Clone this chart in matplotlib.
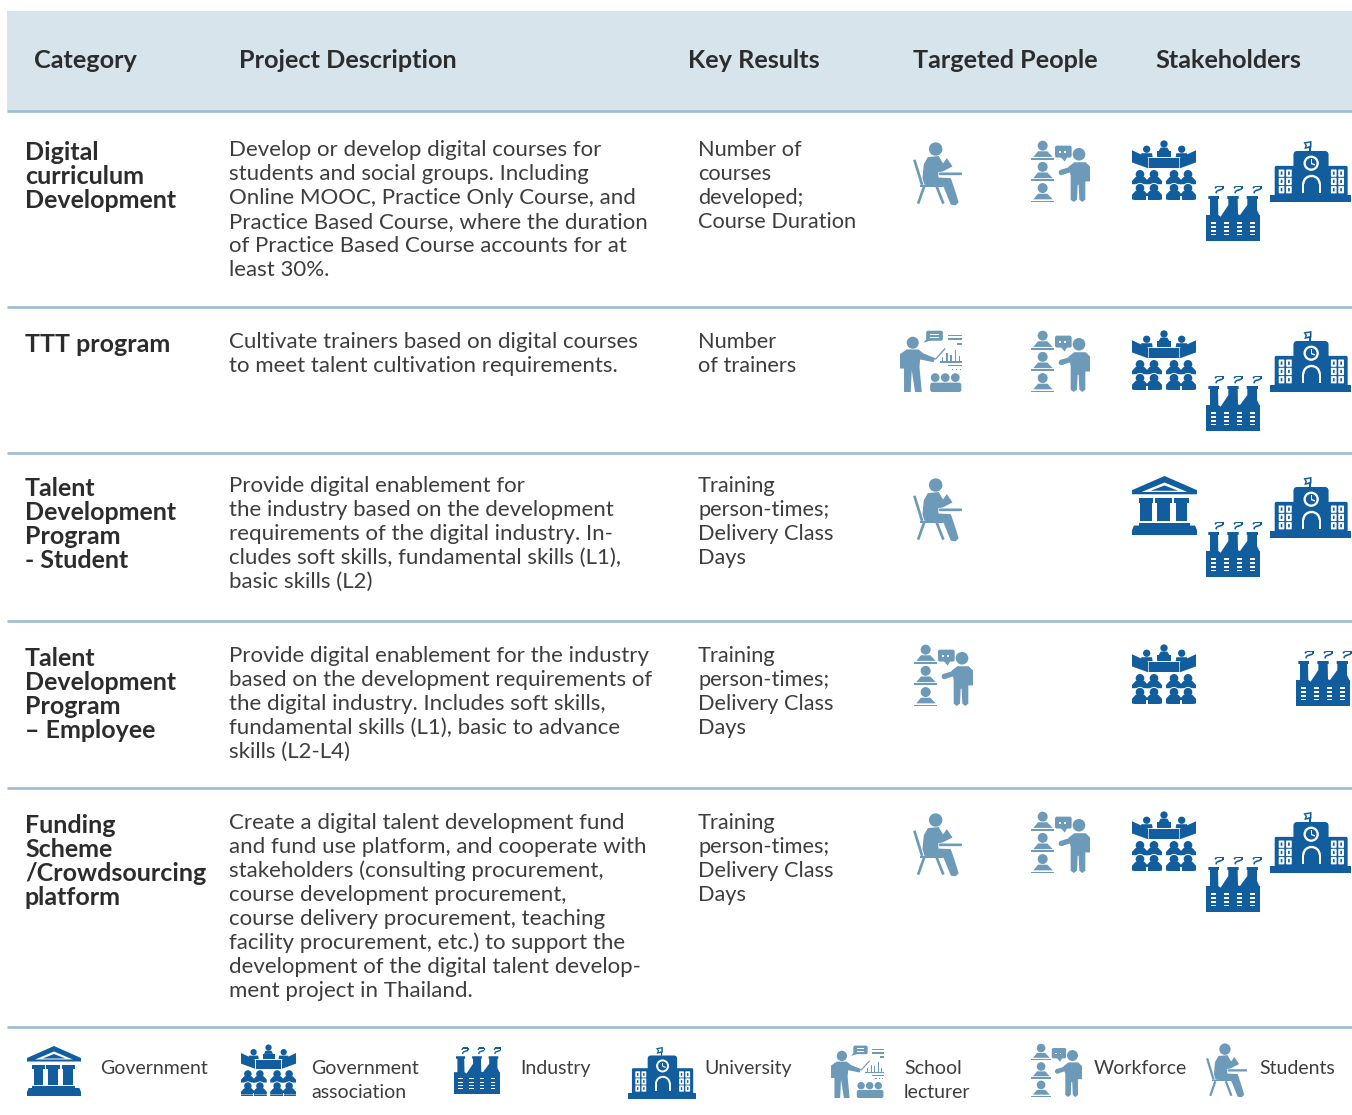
#!/usr/bin/env python3
"""Project overview table with pictogram columns, drawn in pixel coordinates."""

from __future__ import annotations

import matplotlib

matplotlib.use("Agg")
import matplotlib.pyplot as plt
from matplotlib.patches import Ellipse, FancyBboxPatch, Polygon, Rectangle, Wedge
from matplotlib.transforms import Affine2D

WIDTH, HEIGHT = 1352, 1115
DARK = "#115d9e"
LIGHT = "#6d9ab9"
HEADER_BG = "#d8e4ec"
RULE = "#9cbdd3"
INK = "#3d3d3d"
HEAD_INK = "#2c2c2c"
FONT = "Lato"

HEADERS = ["Category", "Project Description", "Key Results", "Targeted People", "Stakeholders"]
CATEGORIES = [
    ["Digital", "curriculum", "Development"],
    ["TTT program"],
    ["Talent", "Development", "Program", "- Student"],
    ["Talent", "Development", "Program", "– Employee"],
    ["Funding", "Scheme", "/Crowdsourcing", "platform"],
]
DESCRIPTIONS = [
    ["Develop or develop digital courses for", "students and social groups. Including",
     "Online MOOC, Practice Only Course, and", "Practice Based Course, where the duration",
     "of Practice Based Course accounts for at", "least 30%."],
    ["Cultivate trainers based on digital courses", "to meet talent cultivation requirements."],
    ["Provide digital enablement for", "the industry based on the development",
     "requirements of the digital industry. In-", "cludes soft skills, fundamental skills (L1),",
     "basic skills (L2)"],
    ["Provide digital enablement for the industry", "based on the development requirements of",
     "the digital industry. Includes soft skills,", "fundamental skills (L1), basic to advance",
     "skills (L2-L4)"],
    ["Create a digital talent development fund", "and fund use platform, and cooperate with",
     "stakeholders (consulting procurement,", "course development procurement,",
     "course delivery procurement, teaching", "facility procurement, etc.) to support the",
     "development of the digital talent develop-", "ment project in Thailand."],
]
RESULTS = [
    ["Number of", "courses", "developed;", "Course Duration"],
    ["Number", "of trainers"],
    ["Training", "person-times;", "Delivery Class", "Days"],
    ["Training", "person-times;", "Delivery Class", "Days"],
    ["Training", "person-times;", "Delivery Class", "Days"],
]
LEGEND_LABELS = [["Government"], ["Government", "association"], ["Industry"], ["University"],
                 ["School", "lecturer"], ["Workforce"], ["Students"]]
LEGEND_ICONS = ["government", "association", "industry", "university", "lecturer", "workforce", "student"]
ROW_PEOPLE = [["student", "workforce"], ["lecturer", "workforce"], ["student"], ["workforce"], ["student", "workforce"]]
ROW_STAKEHOLDERS = [
    ["association", "industry", "university"],
    ["association", "industry", "university"],
    ["government", "industry", "university"],
    ["association", "industry"],
    ["association", "industry", "university"],
]

# layout, in image pixels
RULES_Y = [111, 307, 453, 621, 788, 1027]
ROW_BASE = [156, 348, 492, 662, 829]
ROW_ICON_DY = [0, 190, 336, 504, 671]
HEADER_X = [34, 239, 688, 913, 1155]
LEGEND_TEXT_X = [100, 311, 520, 704, 904, 1094, 1259]
LEGEND_BOXES = [(27, 1046, 81, 1096), (241, 1045, 296, 1098), (454, 1047, 500, 1094), (628, 1047, 696, 1099),
                (831, 1045, 884, 1098), (1031, 1044, 1082, 1097), (1206, 1044, 1247, 1097)]
PEOPLE_BOXES = {"student": (913, 143, 962, 205), "workforce": (1031, 141, 1090, 202), "lecturer": (900, 140, 962, 202)}
STAKE_BOXES = {"association": (1132, 141, 1196, 202), "government": (1132, 140, 1197, 199),
               "industry": (1206, 185, 1260, 241), "university": (1270, 141, 1351, 202)}


class Pen:
    """Draws shapes given in an icon's own coordinates into a pixel box."""

    def __init__(self, ax, native, box):
        self.ax = ax
        nx0, ny0, nx1, ny1 = native
        x0, y0, x1, y1 = box
        self.tr = (Affine2D().translate(-nx0, -ny0)
                   .scale((x1 - x0) / (nx1 - nx0), (y1 - y0) / (ny1 - ny0))
                   .translate(x0, y0) + ax.transData)

    def _add(self, patch):
        patch.set_transform(self.tr)
        self.ax.add_patch(patch)

    def poly(self, pts, color):
        self._add(Polygon(pts, closed=True, fc=color, ec="none"))

    def circle(self, cx, cy, r, color):
        self._add(Ellipse((cx, cy), 2 * r, 2 * r, fc=color, ec="none"))

    def rect(self, x0, y0, x1, y1, color):
        self._add(Rectangle((x0, y0), x1 - x0, y1 - y0, fc=color, ec="none"))

    def rrect(self, x0, y0, x1, y1, rad, color):
        self._add(FancyBboxPatch((x0 + rad, y0 + rad), x1 - x0 - 2 * rad, y1 - y0 - 2 * rad,
                                 boxstyle=f"round,pad={rad},rounding_size={rad}", fc=color, ec="none"))

    def bar(self, p0, p1, w, color):
        dx, dy = p1[0] - p0[0], p1[1] - p0[1]
        size = (dx * dx + dy * dy) ** 0.5
        nx, ny = -dy / size * w / 2, dx / size * w / 2
        self.poly([(p0[0] + nx, p0[1] + ny), (p1[0] + nx, p1[1] + ny),
                   (p1[0] - nx, p1[1] - ny), (p0[0] - nx, p0[1] - ny)], color)

    def ring(self, cx, cy, r, width, t0, t1, color):
        self._add(Wedge((cx, cy), r, t0, t1, width=width, fc=color, ec="none"))


def icon_student(p, c=LIGHT):
    p.circle(107, 73, 20, c)
    p.poly([(72, 118), (84, 97), (116, 94), (129, 116), (140, 100), (157, 125), (128, 140), (115, 142), (115, 158),
            (152, 160), (167, 205), (175, 232), (166, 241), (152, 239), (133, 192), (128, 182), (74, 180), (68, 160)], c)
    p.rrect(117, 143, 185, 151, 3, c)
    p.bar((44, 105), (67, 180), 8, c)
    p.bar((62, 182), (130, 182), 6, c)
    p.bar((73, 185), (55, 236), 8, c)
    p.bar((110, 185), (130, 236), 8, c)


def icon_workforce(p, c=LIGHT):
    for dy in (0, 64, 128):
        p.circle(428, 62 + dy, 15, c)
        p.poly([(400, 96 + dy), (414, 79 + dy), (442, 79 + dy), (458, 96 + dy)], c)
        p.rect(393, 100 + dy, 463, 105 + dy, c)
    p.rrect(465, 62, 515, 98, 6, c)
    p.poly([(482, 96), (502, 96), (494, 110)], c)
    p.rect(478, 78, 484, 83, "white")
    p.rect(492, 78, 498, 83, "white")
    p.circle(537, 88, 19, c)
    p.poly([(505, 126), (523, 112), (557, 112), (570, 125), (570, 170), (556, 170), (556, 225), (547, 232), (538, 225),
            (536, 180), (533, 180), (531, 225), (521, 232), (512, 225), (512, 152)], c)
    p.bar((483, 143), (515, 133), 16, c)
    p.circle(484, 143, 8, c)


def _group_person(p, cx, cy, c):
    p.circle(cx, cy, 13, c)
    p.poly([(cx - 24, cy + 30), (cx - 24, cy + 20), (cx - 13, cy + 8), (cx + 13, cy + 8), (cx + 24, cy + 20),
            (cx + 24, cy + 30)], c)


def icon_association(p, c=DARK):
    p.circle(792, 56, 11, c)
    p.poly([(776, 78), (782, 67), (802, 67), (808, 78)], c)
    p.rect(772, 78, 813, 96, c)
    for cx in (740, 845):
        p.circle(cx, 72, 11, c)
        p.poly([(cx - 18, 96), (cx - 16, 84), (cx + 16, 84), (cx + 18, 96)], c)
    p.poly([(696, 75), (745, 98), (745, 130), (696, 112)], c)
    p.poly([(888, 75), (839, 98), (839, 130), (888, 112)], c)
    p.rect(748, 100, 836, 130, c)
    for x0 in (696, 798):
        for cx in (x0 + 24, x0 + 66):
            _group_person(p, cx, 148, c)
        for cx in (x0 + 24, x0 + 66):
            p.circle(cx, 190, 16, "white")
        for cx in (x0 + 24, x0 + 66):
            _group_person(p, cx, 190, c)
        p.rect(x0 - 1, 220, x0 + 91, 226, c)
        p.poly([(x0 - 1, 224), (x0 + 40, 233), (x0 - 1, 233)], "white")
        p.poly([(x0 + 91, 224), (x0 + 50, 233), (x0 + 91, 233)], "white")
        p.rect(x0 + 43, 214, x0 + 47, 233, "white")


def icon_industry(p, c=DARK):
    p.poly([(918, 348), (918, 270), (930, 270), (930, 222), (925, 222), (925, 213), (957, 213), (957, 222), (954, 222),
            (955, 270), (962, 275), (985, 240), (985, 222), (982, 222), (982, 213), (1016, 213), (1016, 222),
            (1013, 222), (1014, 268), (1020, 270), (1042, 240), (1042, 222), (1040, 222), (1040, 213), (1074, 213),
            (1074, 222), (1071, 222), (1071, 255), (1078, 270), (1080, 270), (1080, 348)], c)
    for dx in (0, 57, 114):
        hook = [(945, 190), (950, 184), (968, 184), (968, 192), (950, 198), (948, 205)]
        for a, b in zip(hook, hook[1:]):
            p.bar((a[0] + dx, a[1]), (b[0] + dx, b[1]), 5, c)
    for x in (933, 972, 1010, 1049):
        for y in (292, 304, 316, 327):
            p.rect(x, y, x + 15, y + 4, "white")


def icon_university(p, c=DARK):
    p.rect(1110, 210, 1352, 232, c)
    p.rrect(1124, 123, 1190, 215, 5, c)
    p.rrect(1275, 123, 1342, 215, 5, c)
    p.rrect(1180, 78, 1285, 215, 12, c)
    p.bar((1230, 50), (1230, 80), 4, c)
    p.poly([(1210, 52), (1234, 48), (1234, 68), (1212, 72), (1216, 62)], c)
    p.poly([(1216, 56), (1229, 53), (1229, 63), (1219, 66), (1221, 60)], "white")
    p.circle(1233, 115, 23, "white")
    p.circle(1233, 115, 16, c)
    p.bar((1233, 103), (1233, 116), 4, "white")
    p.bar((1233, 116), (1244, 120), 4, "white")
    p.ring(1234, 178, 28, 7, 180, 360, "white")
    p.rect(1206, 177, 1213, 205, "white")
    p.rect(1255, 177, 1262, 205, "white")
    for x in (1136, 1158, 1292, 1314):
        for y in (134, 159, 184):
            p.rrect(x, y, x + 17, y + 22, 2, "white")
            p.rrect(x + 6, y + 6, x + 11, y + 16, 1, c)


def icon_government(p, c=DARK):
    p.poly([(50, 0), (100, 24), (100, 31), (0, 31), (0, 24)], c)
    p.poly([(50, 11), (85, 27), (15, 27)], "white")
    p.poly([(50, 16), (71, 25), (29, 25)], c)
    for cap0, cap1, sh0, sh1 in ((10, 33, 13, 30), (36, 62, 39, 58), (64, 88, 67, 85)):
        p.rect(cap0, 38, cap1, 46, c)
        p.rect(sh0, 46, sh1, 77, c)
    p.rect(10, 79, 89, 84, c)
    p.poly([(3, 84), (97, 84), (100, 92), (100, 100), (0, 100), (0, 92)], c)


def icon_lecturer(p, c=LIGHT):
    p.circle(68, 68, 18, c)
    p.poly([(30, 102), (50, 88), (85, 88), (100, 100), (135, 114), (130, 126), (90, 118), (88, 140), (95, 215),
            (75, 215), (65, 150), (62, 215), (42, 215), (42, 145), (30, 145)], c)
    p.bar((135, 118), (165, 85), 4, c)
    p.rrect(108, 32, 158, 62, 6, c)
    p.poly([(110, 55), (125, 60), (100, 68)], c)
    p.rect(120, 41, 146, 45, "white")
    p.rect(120, 50, 146, 54, "white")
    p.rect(172, 44, 215, 49, c)
    p.rect(172, 55, 215, 60, c)
    p.rect(200, 69, 215, 74, c)
    p.rect(148, 123, 215, 127, c)
    for x, h in zip((155, 168, 180, 193, 205), (12, 24, 18, 34, 14)):
        p.rect(x, 123 - h, x + 4, 123, c)
    p.rect(172, 133, 215, 137, c)
    for x in (187, 198, 210):
        p.rect(x - 2, 146, x + 2, 150, c)
    for cx in (135, 165, 195):
        p.circle(cx, 172, 13, c)
    p.rrect(120, 187, 213, 215, 7, c)


ICON_DRAW = {
    "student": (icon_student, (40, 55, 185, 240)),
    "workforce": (icon_workforce, (393, 48, 570, 232)),
    "association": (icon_association, (696, 47, 888, 232)),
    "industry": (icon_industry, (918, 180, 1080, 348)),
    "university": (icon_university, (1110, 48, 1352, 232)),
    "government": (icon_government, (0, 0, 100, 100)),
    "lecturer": (icon_lecturer, (30, 30, 215, 215)),
}


def draw_icon(ax, name, box):
    draw, native = ICON_DRAW[name]
    draw(Pen(ax, native, box))


def text_lines(ax, x, baseline, lines, *, step=24, size=16.0, weight="normal", color=INK):
    for i, line in enumerate(lines):
        ax.text(x, baseline + i * step, line, fontsize=size, fontweight=weight, color=color,
                family=FONT, ha="left", va="baseline")


def main() -> None:
    fig = plt.figure(figsize=(WIDTH / 100, HEIGHT / 100), dpi=100)
    ax = fig.add_axes([0, 0, 1, 1])
    ax.set_xlim(0, WIDTH)
    ax.set_ylim(HEIGHT, 0)
    ax.axis("off")

    ax.add_patch(Rectangle((7, 11), WIDTH - 7, 100, fc=HEADER_BG, ec="none"))
    for y in RULES_Y:
        ax.plot([7, WIDTH], [y, y], color=RULE, lw=1.9, solid_capstyle="butt")

    for x, label in zip(HEADER_X, HEADERS):
        ax.text(x, 68, label, fontsize=18.2, fontweight="bold", color=HEAD_INK, family=FONT, va="baseline")

    for i in range(5):
        text_lines(ax, 25, ROW_BASE[i] + 4, CATEGORIES[i], size=18, weight="bold", color=HEAD_INK)
        text_lines(ax, 229, ROW_BASE[i], DESCRIPTIONS[i])
        text_lines(ax, 698, ROW_BASE[i], RESULTS[i], size=15.7)

        dy = ROW_ICON_DY[i]
        for name in ROW_PEOPLE[i]:
            x0, y0, x1, y1 = PEOPLE_BOXES[name]
            if i == 3:  # the lone workforce icon sits in the first people column
                x0, x1 = x0 - 117, x1 - 117
            draw_icon(ax, name, (x0, y0 + dy, x1, y1 + dy))
        for name in ROW_STAKEHOLDERS[i]:
            x0, y0, x1, y1 = STAKE_BOXES[name]
            if i == 3 and name == "industry":  # moved over to the university column
                x0, x1 = x0 + 90, x1 + 90
                y0, y1 = y0 - 39, y1 - 39
            draw_icon(ax, name, (x0, y0 + dy, x1, y1 + dy))

    for name, box, x, label in zip(LEGEND_ICONS, LEGEND_BOXES, LEGEND_TEXT_X, LEGEND_LABELS):
        draw_icon(ax, name, box)
        text_lines(ax, x, 1074, label, size=14)

    fig.savefig("out.png", dpi=100, facecolor="white")
    plt.close(fig)


if __name__ == "__main__":
    main()
